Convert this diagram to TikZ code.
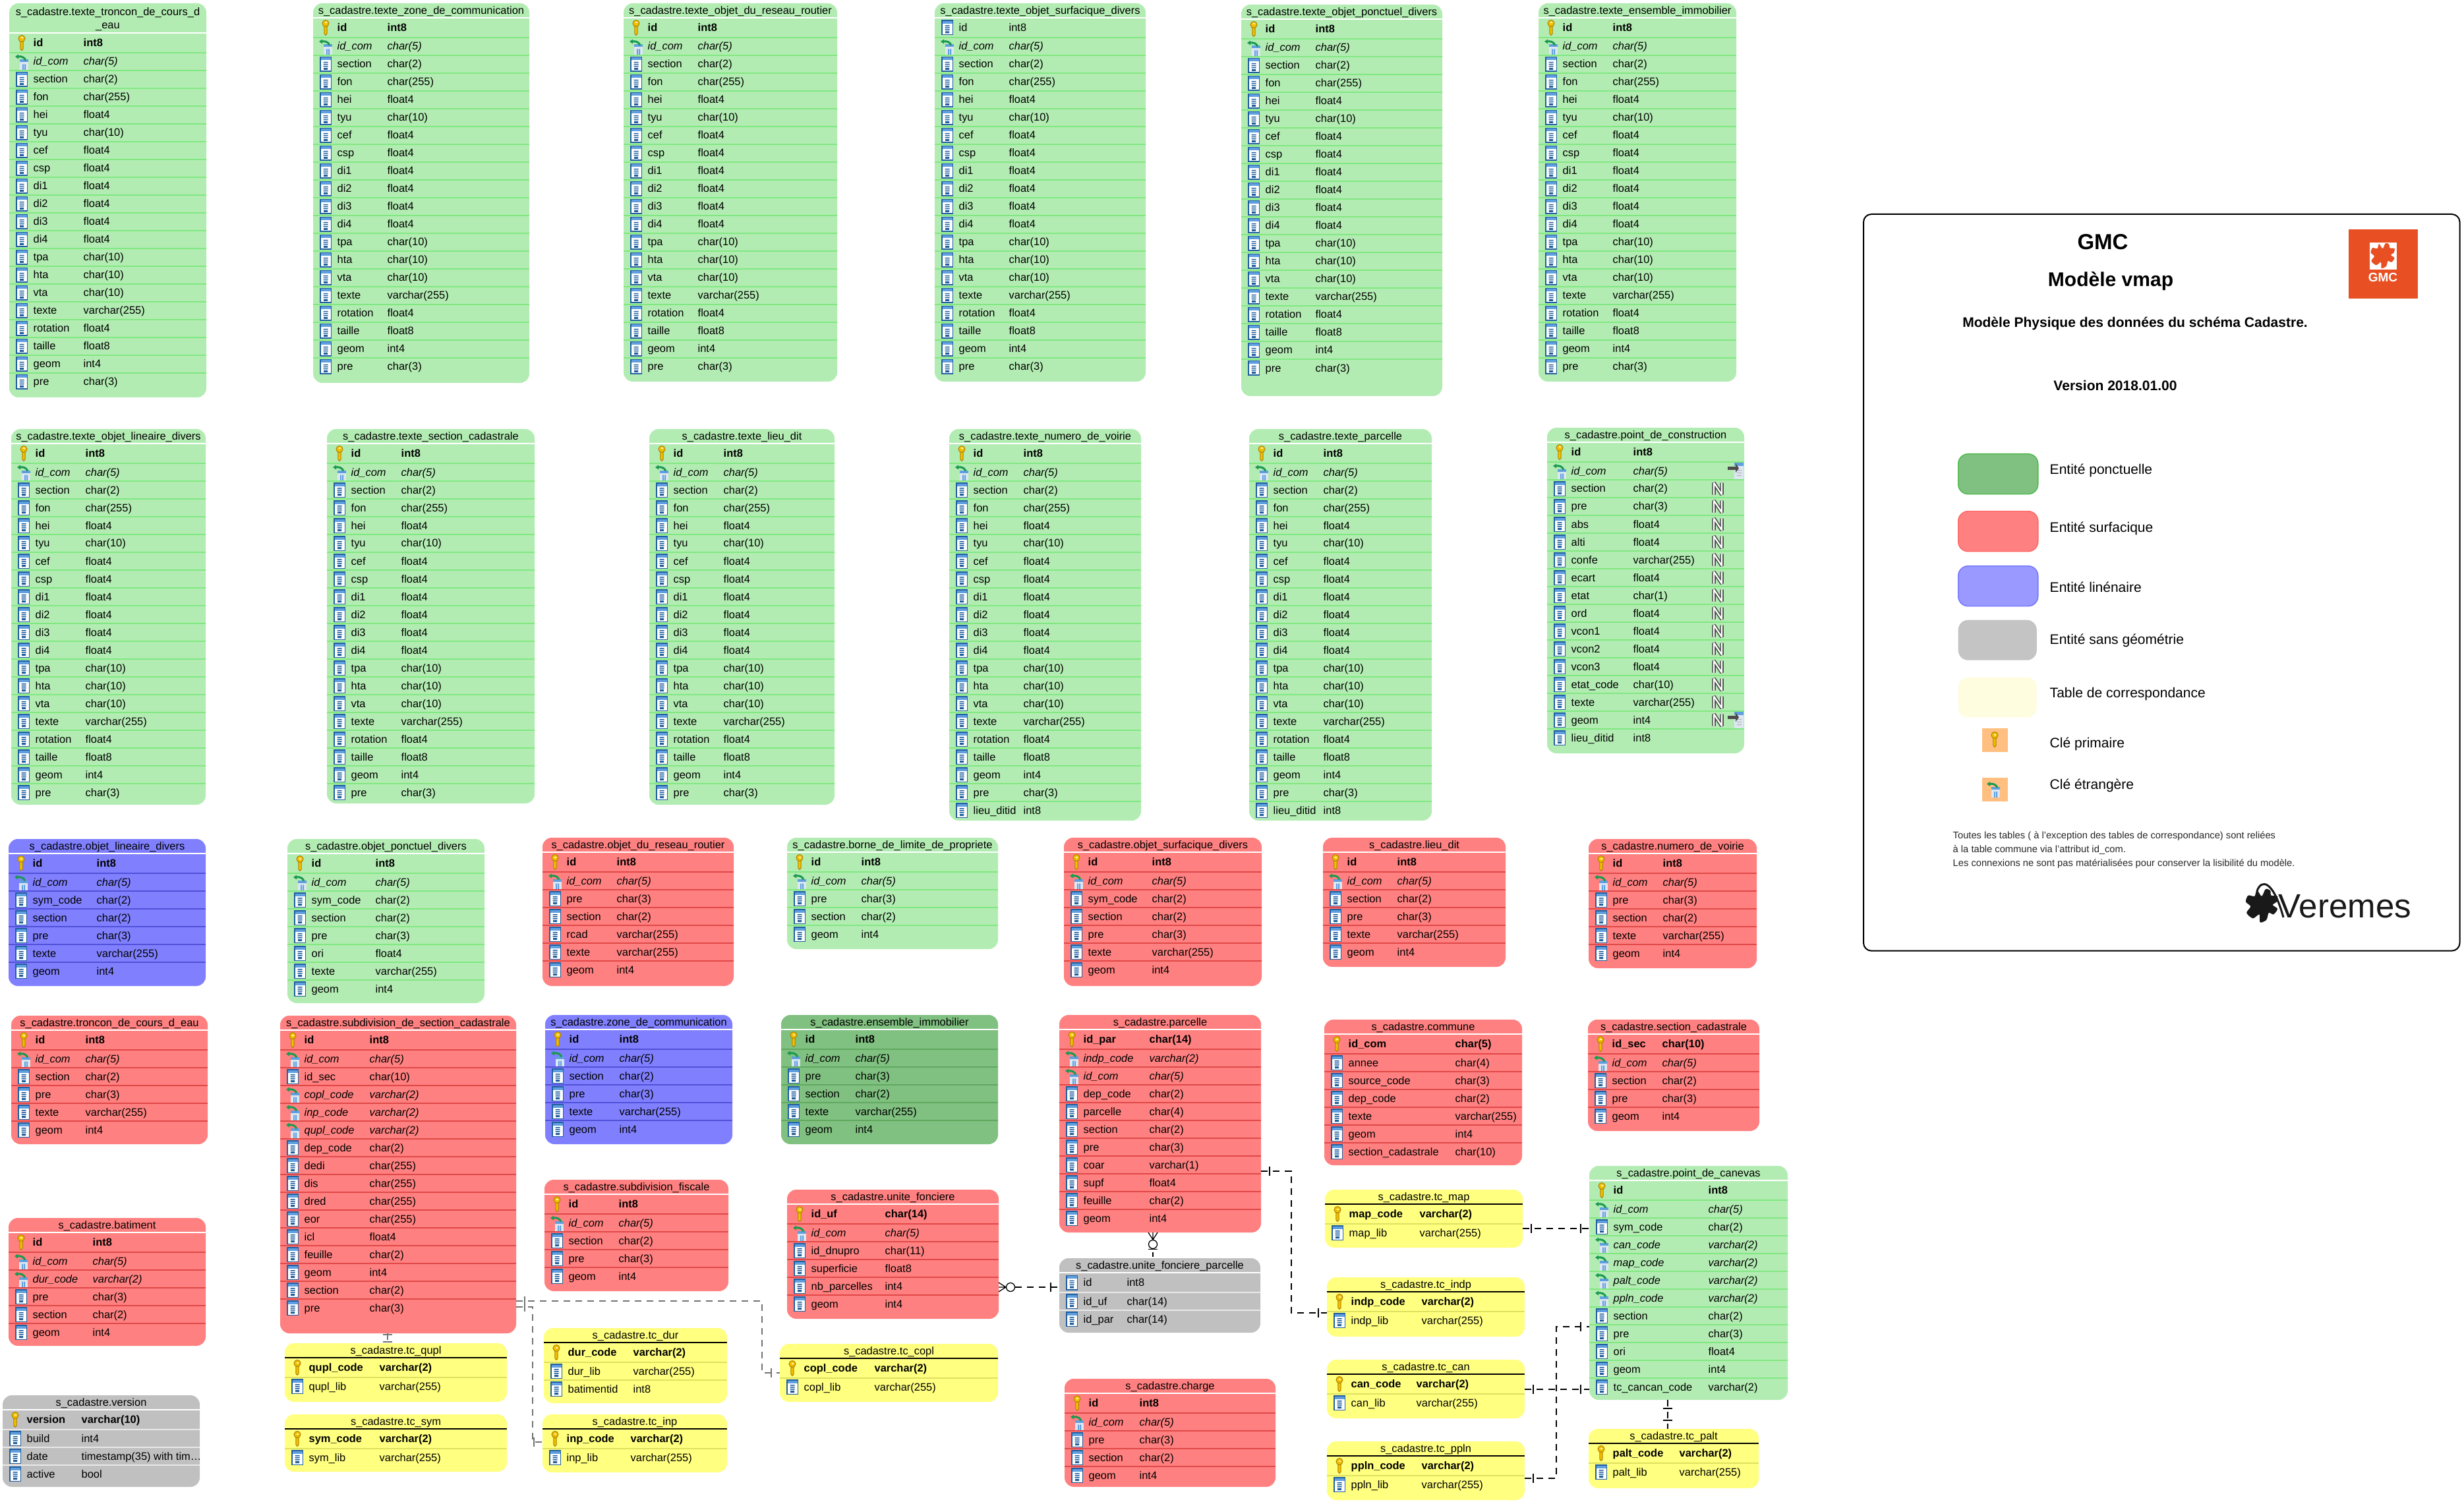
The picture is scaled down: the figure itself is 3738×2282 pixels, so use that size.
\documentclass[tikz,border=0pt]{standalone}
\usepackage{fontspec}
\setmainfont{Liberation Sans}
\usetikzlibrary{decorations.markings}
\catcode`\_=12

\definecolor{tgreenfill}{HTML}{B3ECB3}
\definecolor{tgreenline}{HTML}{80E880}
\definecolor{tgreensep}{HTML}{FFFFFF}
\definecolor{tredfill}{HTML}{FF8080}
\definecolor{tredline}{HTML}{E04848}
\definecolor{tredsep}{HTML}{FFFFFF}
\definecolor{tbluefill}{HTML}{8080FF}
\definecolor{tblueline}{HTML}{5050D8}
\definecolor{tbluesep}{HTML}{FFFFFF}
\definecolor{tgreyfill}{HTML}{C0C0C0}
\definecolor{tgreyline}{HTML}{E8E8E8}
\definecolor{tgreysep}{HTML}{FFFFFF}
\definecolor{tyellowfill}{HTML}{FFFF80}
\definecolor{tyellowline}{HTML}{E0E060}
\definecolor{tyellowsep}{HTML}{000000}
\definecolor{tdarkfill}{HTML}{80C080}
\definecolor{tdarkline}{HTML}{60A860}
\definecolor{tdarksep}{HTML}{FFFFFF}
\definecolor{keygold}{HTML}{F0C000}
\definecolor{keyedge}{HTML}{B08000}
\definecolor{fkgreen}{HTML}{1A9A50}
\definecolor{colblue}{HTML}{1F5F9F}
\definecolor{colband}{HTML}{5F9FE0}
\definecolor{gmcorange}{HTML}{E85024}

\tikzset{
tablebox/.style={rectangle,rounded corners=0.14cm,fill=#1fill,inner sep=0pt,outer sep=0pt,anchor=north west},
tabletitle/.style={align=center,inner sep=0pt,font=\fontsize{4.67}{5.6}\selectfont},
rowtext/.style={anchor=base west,inner sep=0pt,font=\fontsize{4.67}{5.6}\selectfont},
swatch/.style={rectangle,rounded corners=0.15cm,inner sep=0pt,anchor=north west},
legendtext/.style={anchor=west,inner sep=0pt,font=\fontsize{5.98}{7}\selectfont},
legendhead/.style={inner sep=0pt,font=\fontsize{#1}{12}\selectfont\bfseries},
notetext/.style={anchor=west,inner sep=0pt,font=\fontsize{4.18}{5}\selectfont,text=black!85},
tickstart/.style={postaction={decorate,decoration={markings,mark=at position 0.13cm with {\draw[solid,draw=#1,line width=0.013cm] (0,-7)--(0,7);}}}},
tickend/.style={postaction={decorate,decoration={markings,mark=at position -0.13cm with {\draw[solid,draw=#1,line width=0.013cm] (0,-7)--(0,7);}}}},
relline/.style={draw=#1,line width=0.013cm,dash pattern=on 0.1cm off 0.08cm,tickstart=#1,tickend=#1},
relline/.default=black,
zero/.style={circle,draw,line width=0.013cm,fill=white,minimum size=0.13cm,inner sep=0pt}
}

\newcommand{\iconc}[2]{
\begin{scope}[shift={(#1,#2)}]
\fill[colblue] (-9,-11.5) rectangle (9,11.5);
\fill[white] (-7.5,-6) rectangle (7.5,10);
\fill[colband] (-7.5,-10) rectangle (7.5,-6);
\fill[colblue] (-3.5,-3.5) rectangle (3.5,-2) (-3.5,-0.5) rectangle (3.5,1) (-3.5,2.5) rectangle (3.5,4) (-3,5.5) rectangle (3,8.5);
\end{scope}}
\newcommand{\iconk}[2]{
\begin{scope}[shift={(#1,#2)}]
\filldraw[fill=keygold,draw=keyedge,line width=0.01cm] (-2.2,-3) -- (-2.2,9) -- (0,11.5) -- (2.2,9) -- (2.2,-3) -- cycle;
\filldraw[fill=keygold,draw=keyedge,line width=0.01cm] (0,-6.5) circle (5);
\fill[white!80!keygold] (-1.5,-8.5) rectangle (1.5,-6.5);
\end{scope}}
\newcommand{\iconf}[2]{
\begin{scope}[shift={(#1,#2)}]
\fill[white!85!colblue] (-3,-3) rectangle (10,13);
\fill[colband] (-3,-3) rectangle (10,1);
\fill[colband] (1,4) rectangle (2.8,13) (4.2,4) rectangle (6,13);
\draw[fkgreen,line width=0.03cm] (-6,-7.5) .. controls (-1,-8.5) and (4,-7) .. (6,-2);
\fill[fkgreen] (-10,-7.5) -- (-5,-11) -- (-5,-4) -- cycle;
\end{scope}}
\newcommand{\iconnull}[2]{
\begin{scope}[shift={(#1,#2)},line join=bevel]
\draw[black!70,line width=0.055cm] (-6,9) -- (-6,-9) -- (6,9) -- (6,-9);
\draw[white,line width=0.022cm] (-6,9) -- (-6,-9) -- (6,9) -- (6,-9);
\end{scope}}
\newcommand{\iconindex}[2]{
\begin{scope}[shift={(#1,#2)}]
\fill[white!85!colblue] (-7,-12) rectangle (7,13);
\fill[colband] (-7,-12) rectangle (7,-7);
\fill[black!30] (-3,-1) rectangle (4,0) (-3,3) rectangle (4,4) (-3,7) rectangle (4,8);
\fill[black!70] (-17,-6) rectangle (-4,-1);
\fill[black!70] (-5,-11) -- (0,-3.5) -- (-5,3) -- cycle;
\end{scope}}

\newcommand{\rowfontk}{\bfseries}
\newcommand{\rowfontf}{\itshape}
\newcommand{\rowfontc}{}
\def\dbtitle{}
\newcommand{\dbtable}[9][22]{
\node (#2) [tablebox=#3,minimum width=#6*0.01cm,minimum height=#7*0.01cm] at (#4,#5) {};
\node (#2-title) [tabletitle] at ({#4+#6/2},{#5+#1/2+1.5}) {\ifx\dbtitle\empty s_cadastre.#2\else\dbtitle\fi};
\draw[draw=#3sep,line width=0.018cm] (#4,{#5+#1}) -- ++(#6,0);
\edef\rowlist{#9}
\foreach \kind/\colname/\coltype [count=\i] in \rowlist {
\pgfmathsetmacro\yc{#5+#1+(\i==1?15:30+27*(\i-2)+13.5)}
\pgfmathsetmacro\yl{#5+#1+30+27*(\i-2)}
\ifnum\i>1 \draw[draw=#3line,line width=0.012cm] (#4,\yl) -- ++(#6,0); \fi
\csname icon\kind\endcsname{#4+19}{\yc}
\node (#2-\i) [rowtext] at ({#4+36},{\yc+5.5}) {\csname rowfont\kind\endcsname \colname};
\node (#2-\i-type) [rowtext] at ({#4+#8},{\yc+5.5}) {\csname rowfont\kind\endcsname \coltype};
}
}

\newcommand{\leafshape}[3]{
\fill[#1,shift={(#2)},scale=#3] plot[smooth cycle,tension=0.5] coordinates {(0,-0.55) (0.25,-1) (0.55,-0.9) (0.6,-0.6) (1,-0.55) (0.95,-0.2) (0.7,0) (1,0.25) (0.75,0.6) (0.45,0.5) (0.3,0.95) (-0.1,1.1) (-0.15,0.6) (-0.55,0.85) (-0.95,0.5) (-0.7,0.1) (-1,-0.2) (-0.85,-0.6) (-0.45,-0.55) (-0.3,-0.95)};
}

\newcommand{\texterows}{k/id/int8,f/id_com/char(5),c/section/char(2),c/fon/char(255),c/hei/float4,c/tyu/char(10),c/cef/float4,c/csp/float4,c/di1/float4,c/di2/float4,c/di3/float4,c/di4/float4,c/tpa/char(10),c/hta/char(10),c/vta/char(10),c/texte/varchar(255),c/rotation/float4,c/taille/float8,c/geom/int4,c/pre/char(3)}

\begin{document}
\begin{tikzpicture}[x=0.01cm,y=-0.01cm]
\useasboundingbox (0,0) rectangle (3738,2282);

\def\dbtitle{s_cadastre.texte_troncon_de_cours_d\\_eau}
\dbtable[45]{texte_troncon_de_cours_d_eau}{tgreen}{14}{5}{299}{598}{112}{\texterows}
\def\dbtitle{}
\dbtable{texte_zone_de_communication}{tgreen}{475}{5}{328}{576}{112}{\texterows}
\dbtable{texte_objet_du_reseau_routier}{tgreen}{946}{5}{324}{574}{112}{\texterows}
\dbtable{texte_objet_surfacique_divers}{tgreen}{1418}{5}{320}{574}{112}{c/id/int8,f/id_com/char(5),c/section/char(2),c/fon/char(255),c/hei/float4,c/tyu/char(10),c/cef/float4,c/csp/float4,c/di1/float4,c/di2/float4,c/di3/float4,c/di4/float4,c/tpa/char(10),c/hta/char(10),c/vta/char(10),c/texte/varchar(255),c/rotation/float4,c/taille/float8,c/geom/int4,c/pre/char(3)}
\dbtable{texte_objet_ponctuel_divers}{tgreen}{1883}{7}{305}{594}{112}{\texterows}
\dbtable{texte_ensemble_immobilier}{tgreen}{2334}{5}{300}{574}{112}{\texterows}

\dbtable{texte_objet_lineaire_divers}{tgreen}{17}{651}{295}{570}{112}{\texterows}
\dbtable{texte_section_cadastrale}{tgreen}{496}{651}{315}{568}{112}{\texterows}
\dbtable{texte_lieu_dit}{tgreen}{985}{651}{281}{570}{112}{\texterows}
\dbtable{texte_numero_de_voirie}{tgreen}{1440}{651}{291}{594}{112}{\texterows,c/lieu_ditid/int8}
\dbtable{texte_parcelle}{tgreen}{1895}{651}{277}{594}{112}{\texterows,c/lieu_ditid/int8}
\dbtable{point_de_construction}{tgreen}{2347}{649}{299}{494}{130}{k/id/int8,f/id_com/char(5),c/section/char(2),c/pre/char(3),c/abs/float4,c/alti/float4,c/confe/varchar(255),c/ecart/float4,c/etat/char(1),c/ord/float4,c/vcon1/float4,c/vcon2/float4,c/vcon3/float4,c/etat_code/char(10),c/texte/varchar(255),c/geom/int4,c/lieu_ditid/int8}
\foreach \n in {3,...,16} {
\pgfmathsetmacro\yn{649+22+30+27*(\n-2)+13.5}
\iconnull{2606}{\yn}
}
\iconindex{2638}{714}
\iconindex{2638}{1092}

\dbtable{objet_lineaire_divers}{tblue}{13}{1273}{299}{223}{133}{k/id/int8,f/id_com/char(5),c/sym_code/char(2),c/section/char(2),c/pre/char(3),c/texte/varchar(255),c/geom/int4}
\dbtable{objet_ponctuel_divers}{tgreen}{436}{1273}{299}{249}{133}{k/id/int8,f/id_com/char(5),c/sym_code/char(2),c/section/char(2),c/pre/char(3),c/ori/float4,c/texte/varchar(255),c/geom/int4}
\dbtable{objet_du_reseau_routier}{tred}{823}{1271}{290}{225}{112}{k/id/int8,f/id_com/char(5),c/pre/char(3),c/section/char(2),c/rcad/varchar(255),c/texte/varchar(255),c/geom/int4}
\dbtable{borne_de_limite_de_propriete}{tgreen}{1194}{1271}{320}{169}{112}{k/id/int8,f/id_com/char(5),c/pre/char(3),c/section/char(2),c/geom/int4}
\dbtable{objet_surfacique_divers}{tred}{1614}{1271}{300}{225}{133}{k/id/int8,f/id_com/char(5),c/sym_code/char(2),c/section/char(2),c/pre/char(3),c/texte/varchar(255),c/geom/int4}
\dbtable{lieu_dit}{tred}{2007}{1271}{277}{196}{112}{k/id/int8,f/id_com/char(5),c/section/char(2),c/pre/char(3),c/texte/varchar(255),c/geom/int4}
\dbtable{numero_de_voirie}{tred}{2410}{1273}{255}{196}{112}{k/id/int8,f/id_com/char(5),c/pre/char(3),c/section/char(2),c/texte/varchar(255),c/geom/int4}

\dbtable{troncon_de_cours_d_eau}{tred}{17}{1541}{298}{195}{112}{k/id/int8,f/id_com/char(5),c/section/char(2),c/pre/char(3),c/texte/varchar(255),c/geom/int4}
\dbtable{subdivision_de_section_cadastrale}{tred}{425}{1541}{358}{482}{135}{k/id/int8,f/id_com/char(5),c/id_sec/char(10),f/copl_code/varchar(2),f/inp_code/varchar(2),f/qupl_code/varchar(2),c/dep_code/char(2),c/dedi/char(255),c/dis/char(255),c/dred/char(255),c/eor/char(255),c/icl/float4,c/feuille/char(2),c/geom/int4,c/section/char(2),c/pre/char(3)}
\dbtable{zone_de_communication}{tblue}{827}{1540}{284}{196}{112}{k/id/int8,f/id_com/char(5),c/section/char(2),c/pre/char(3),c/texte/varchar(255),c/geom/int4}
\dbtable{ensemble_immobilier}{tdark}{1185}{1540}{329}{196}{112}{k/id/int8,f/id_com/char(5),c/pre/char(3),c/section/char(2),c/texte/varchar(255),c/geom/int4}
\dbtable{parcelle}{tred}{1607}{1540}{306}{330}{136}{k/id_par/char(14),f/indp_code/varchar(2),f/id_com/char(5),c/dep_code/char(2),c/parcelle/char(4),c/section/char(2),c/pre/char(3),c/coar/varchar(1),c/supf/float4,c/feuille/char(2),c/geom/int4}
\dbtable{commune}{tred}{2009}{1547}{300}{221}{198}{k/id_com/char(5),c/annee/char(4),c/source_code/char(3),c/dep_code/char(2),c/texte/varchar(255),c/geom/int4,c/section_cadastrale/char(10)}
\dbtable{section_cadastrale}{tred}{2409}{1547}{260}{169}{112}{k/id_sec/char(10),f/id_com/char(5),c/section/char(2),c/pre/char(3),c/geom/int4}

\dbtable{subdivision_fiscale}{tred}{826}{1790}{279}{169}{112}{k/id/int8,f/id_com/char(5),c/section/char(2),c/pre/char(3),c/geom/int4}
\dbtable{unite_fonciere}{tred}{1194}{1805}{321}{196}{148}{k/id_uf/char(14),f/id_com/char(5),c/id_dnupro/char(11),c/superficie/float8,c/nb_parcelles/int4,c/geom/int4}
\dbtable{unite_fonciere_parcelle}{tgrey}{1607}{1909}{305}{113}{102}{c/id/int8,c/id_uf/char(14),c/id_par/char(14)}
\dbtable{batiment}{tred}{13}{1848}{299}{194}{127}{k/id/int8,f/id_com/char(5),f/dur_code/varchar(2),c/pre/char(3),c/section/char(2),c/geom/int4}
\dbtable{version}{tgrey}{4}{2117}{299}{139}{119}{k/version/varchar(10),c/build/int4,c/date/timestamp(35) with tim\ldots,c/active/bool}
\dbtable{charge}{tred}{1615}{2092}{320}{164}{113}{k/id/int8,f/id_com/char(5),c/pre/char(3),c/section/char(2),c/geom/int4}

\dbtable{tc_qupl}{tyellow}{432}{2038}{337}{89}{143}{k/qupl_code/varchar(2),c/qupl_lib/varchar(255)}
\dbtable{tc_sym}{tyellow}{432}{2146}{337}{87}{143}{k/sym_code/varchar(2),c/sym_lib/varchar(255)}
\dbtable{tc_dur}{tyellow}{825}{2015}{278}{114}{135}{k/dur_code/varchar(2),c/dur_lib/varchar(255),c/batimentid/int8}
\dbtable{tc_inp}{tyellow}{823}{2146}{280}{88}{133}{k/inp_code/varchar(2),c/inp_lib/varchar(255)}
\dbtable{tc_copl}{tyellow}{1183}{2039}{331}{88}{143}{k/copl_code/varchar(2),c/copl_lib/varchar(255)}
\dbtable{tc_map}{tyellow}{2010}{1805}{300}{88}{143}{k/map_code/varchar(2),c/map_lib/varchar(255)}
\dbtable{tc_indp}{tyellow}{2013}{1938}{300}{90}{143}{k/indp_code/varchar(2),c/indp_lib/varchar(255)}
\dbtable{tc_can}{tyellow}{2013}{2063}{300}{89}{135}{k/can_code/varchar(2),c/can_lib/varchar(255)}
\dbtable{tc_ppln}{tyellow}{2013}{2187}{300}{89}{143}{k/ppln_code/varchar(2),c/ppln_lib/varchar(255)}
\dbtable{tc_palt}{tyellow}{2410}{2168}{258}{90}{137}{k/palt_code/varchar(2),c/palt_lib/varchar(255)}
\dbtable{point_de_canevas}{tgreen}{2411}{1769}{301}{355}{180}{k/id/int8,f/id_com/char(5),c/sym_code/char(2),f/can_code/varchar(2),f/map_code/varchar(2),f/palt_code/varchar(2),f/ppln_code/varchar(2),c/section/char(2),c/pre/char(3),c/ori/float4,c/geom/int4,c/tc_cancan_code/varchar(2)}

\coordinate (indpbend) at (1959,1777);
\coordinate (indpend) at (1959,1992);
\draw[relline] (parcelle.east |- indpbend) -- (indpbend) -- (indpend) -- (tc_indp.west |- indpend);
\coordinate (mapend) at (2350,1864);
\draw[relline] (tc_map.east |- mapend) -- (point_de_canevas.west |- mapend);
\coordinate (canend) at (2350,2108);
\draw[relline] (tc_can.east |- canend) -- (point_de_canevas.west |- canend);
\coordinate (pplnbend) at (2361,2243);
\coordinate (pplnend) at (2361,2013);
\draw[relline] (tc_ppln.east |- pplnbend) -- (pplnbend) -- (pplnend) -- (point_de_canevas.west |- pplnend);
\coordinate (paltx) at (2530,2150);
\draw[relline] (paltx |- point_de_canevas.south) -- (paltx |- tc_palt.north);

\coordinate (qupladd) at (588,2030);
\draw[relline=black!55] (qupladd |- subdivision_de_section_cadastrale.south) -- (qupladd |- tc_qupl.north);
\coordinate (coplbend) at (1156,1974);
\coordinate (coplend) at (1156,2083);
\draw[relline=black!55] (subdivision_de_section_cadastrale.east |- coplbend) -- (coplbend) -- (coplend) -- (tc_copl.west |- coplend);
\coordinate (inpbend) at (808,1983);
\coordinate (inpend) at (808,2188);
\draw[relline=black!55] (subdivision_de_section_cadastrale.east |- inpbend) -- (inpbend) -- (inpend) -- (tc_inp.west |- inpend);

\node (ufzero) [zero] at (1533,1953) {};
\draw[line width=0.013cm] (ufzero.west) -- (unite_fonciere.east |- ufzero) (ufzero.west) -- ([yshift=0.07cm]unite_fonciere.east |- ufzero) (ufzero.west) -- ([yshift=-0.07cm]unite_fonciere.east |- ufzero);
\draw[line width=0.013cm,dash pattern=on 0.1cm off 0.08cm,tickend=black] (ufzero.east) -- (unite_fonciere_parcelle.west |- ufzero);
\node (parcelzero) [zero] at (1749,1888) {};
\draw[line width=0.013cm] (parcelzero.north) -- (parcelzero.north |- parcelle.south) (parcelzero.north) -- ([xshift=0.07cm]parcelzero.north |- parcelle.south) (parcelzero.north) -- ([xshift=-0.07cm]parcelzero.north |- parcelle.south);
\draw[line width=0.013cm] ([xshift=-0.07cm,yshift=-0.005cm]parcelzero.south) -- ([xshift=0.07cm,yshift=-0.005cm]parcelzero.south);
\draw[line width=0.013cm,dash pattern=on 0pt off 0.05cm on 0.07cm off 0.2cm] (parcelzero.south) -- (parcelzero.south |- unite_fonciere_parcelle.north);

\node (legend) [rectangle,rounded corners=0.12cm,draw=black,line width=0.02cm,inner sep=0pt,anchor=north west,minimum width=9.04cm,minimum height=11.17cm] at (2826,324) {};
\node (gmc) [legendhead=9.39] at (3190,367) {GMC};
\node (vmap) [legendhead=8.54] at (3202,427) {Modèle vmap};
\node (physique) [legendhead=5.98] at (3239,491) {Modèle Physique des données du schéma Cadastre.};
\node (versiontext) [legendhead=5.98] at (3209,585) {Version 2018.01.00};
\node (gmclogo) [rectangle,fill=gmcorange,inner sep=0pt,anchor=north west,minimum width=1.05cm,minimum height=1.05cm] at (3562,347) {};
\node (gmcleaf) [rectangle,fill=white,inner sep=0pt,anchor=north west,minimum width=0.41cm,minimum height=0.41cm] at (3594,367) {};
\leafshape{gmcorange}{3614.5,387}{18}
\node (gmcword) [legendhead=5.4,text=white] at (3615,421) {GMC};
\node (swgreen) [swatch,fill=tdarkfill,draw=tdarkline!80!green,minimum width=1.21cm,minimum height=0.61cm] at (2970,688) {};
\node (swred) [swatch,fill=tredfill,draw=red!60,minimum width=1.21cm,minimum height=0.61cm] at (2970,775) {};
\node (swblue) [swatch,fill=blue!40,draw=blue!55,minimum width=1.21cm,minimum height=0.61cm] at (2970,858) {};
\node (swgrey) [swatch,fill=black!23,minimum width=1.19cm,minimum height=0.61cm] at (2970,940) {};
\node (swpale) [swatch,fill=yellow!12,minimum width=1.19cm,minimum height=0.61cm] at (2970,1027) {};
\node (swkey) [rectangle,fill=orange!50,inner sep=0pt,anchor=north west,minimum width=0.39cm,minimum height=0.36cm] at (3006,1104) {};
\node (swfk) [rectangle,fill=orange!50,inner sep=0pt,anchor=north west,minimum width=0.39cm,minimum height=0.36cm] at (3006,1179) {};
\iconk{3026}{1122}
\iconf{3024}{1197}
\node (lbponctuel) [legendtext] at (3109,714) {Entité ponctuelle};
\node (lbsurface) [legendtext] at (3109,802) {Entité surfacique};
\node (lblineaire) [legendtext] at (3109,891) {Entité linénaire};
\node (lbsansgeom) [legendtext] at (3109,972) {Entité sans géométrie};
\node (lbtable) [legendtext] at (3109,1053) {Table de correspondance};
\node (lbprimaire) [legendtext] at (3109,1129) {Clé primaire};
\node (lbetrangere) [legendtext] at (3109,1192) {Clé étrangère};
\node (noteone) [notetext] at (2962,1269) {Toutes les tables ( à l'exception des tables de correspondance) sont reliées};
\node (notetwo) [notetext] at (2962,1290) {à la table commune via l'attribut id_com.};
\node (notethree) [notetext] at (2962,1311) {Les connexions ne sont pas matérialisées pour conserver la lisibilité du modèle.};
\leafshape{black!90}{3431,1373}{24}
\draw[black!90,line width=0.03cm] (3424,1352) .. controls (3430,1334) and (3448,1334) .. (3464,1392);
\node (veremes) [inner sep=0pt,anchor=base west,font=\fontsize{14.5}{16}\selectfont,text=black!90] at (3456,1392) {Veremes};
\end{tikzpicture}
\end{document}
